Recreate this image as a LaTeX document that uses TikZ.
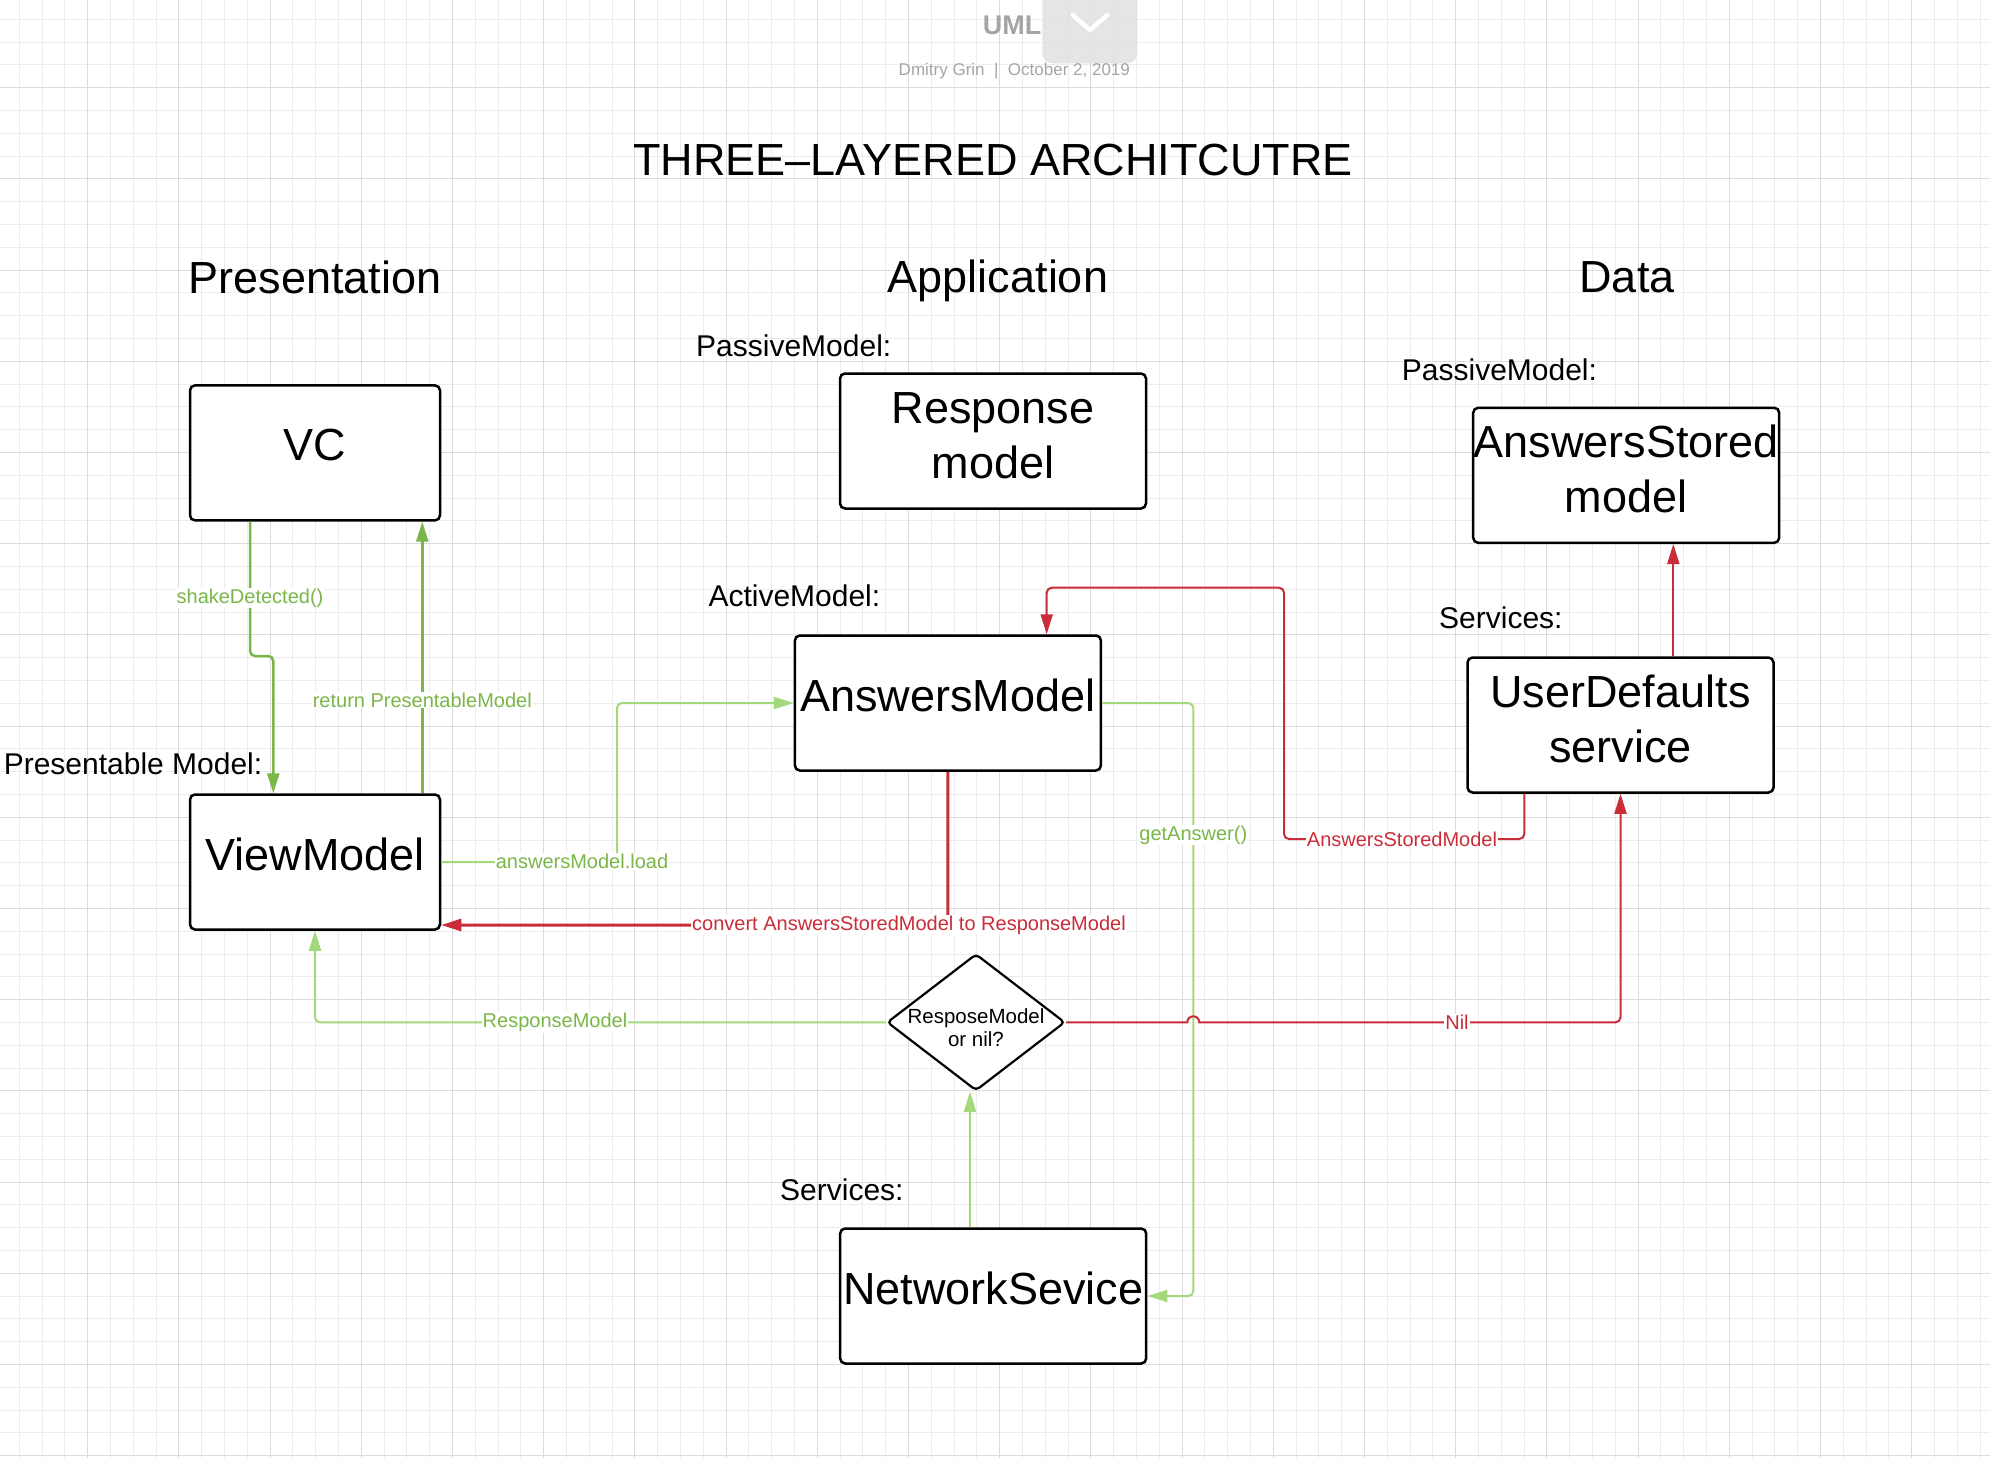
\documentclass[tikz,border=0pt]{standalone}
\usepackage{fontspec}
\setmainfont{Liberation Sans}
\usetikzlibrary{arrows.meta,shapes.geometric}
\definecolor{gridminor}{RGB}{236,236,236}
\definecolor{gridmajor}{RGB}{220,220,220}
\definecolor{dgreen}{RGB}{122,182,72}
\definecolor{lgreen}{RGB}{163,217,122}
\definecolor{lred}{RGB}{201,45,57}
\definecolor{hgrey}{RGB}{165,165,165}
\definecolor{tabgrey}{RGB}{224,225,227}
\newcommand{\fsz}[2]{\fontsize{#1}{#2}\selectfont}
\newcommand{\boxone}[1]{\raisebox{-8pt}[0pt][0pt]{#1}}
\newcommand{\boxtwo}[2]{\raisebox{18pt}[0pt][0pt]{\begin{tabular}[t]{@{}c@{}}#1\\#2\end{tabular}}}
\begin{document}
\begin{tikzpicture}[x=1pt,y=-1pt,
  box/.style={draw=black, line width=2.5pt, rounded corners=5pt, fill=white, inner sep=0pt,
    minimum width=306pt, minimum height=135pt, font=\fsz{45}{55}},
  decision/.style={diamond, draw=black, line width=2.2pt, rounded corners=4pt, fill=white, inner sep=0pt,
    minimum width=178pt, minimum height=133pt, font=\fsz{20.5}{23}},
  heading/.style={anchor=base, inner sep=0pt, font=\fsz{45}{54}},
  tag/.style={anchor=base west, inner sep=0pt, font=\fsz{30}{36}},
  lbl/.style={fill=white, inner sep=1pt, font=\fsz{20}{24}},
  glbl/.style={lbl, text=dgreen},
  rlbl/.style={lbl, text=lred},
  tip/.style={-{Triangle[length=20pt,width=12pt]}},
  darrow/.style={draw=dgreen, line width=2.5pt, rounded corners=5pt, tip},
  larrow/.style={draw=lgreen, line width=2pt, rounded corners=5pt, tip},
  rarrow/.style={draw=lred, line width=2pt, rounded corners=5pt, tip},
  rthick/.style={draw=lred, line width=3pt, rounded corners=5pt, tip},
  rplain/.style={draw=lred, line width=2pt, tip},
]
\useasboundingbox (0,0) rectangle (1990,1458);
\fill[white] (0,0) rectangle (1990,1458);
% grid (snapped to pixel centres)
\foreach \k in {0,...,86} {\pgfmathsetmacro\gp{round(18.8+22.8*\k)+0.5}
  \draw[gridminor, line width=1pt] (\gp,0) -- (\gp,1458);}
\foreach \k in {0,...,63} {\pgfmathsetmacro\gp{round(18.8+22.8*\k)+0.5}
  \draw[gridminor, line width=1pt] (0,\gp) -- (1990,\gp);}
\foreach \k in {3,7,...,83} {\pgfmathsetmacro\gp{round(18.8+22.8*\k)+0.5}
  \draw[gridmajor, line width=1pt] (\gp,0) -- (\gp,1458);}
\foreach \k in {3,7,...,63} {\pgfmathsetmacro\gp{round(18.8+22.8*\k)+0.5}
  \draw[gridmajor, line width=1pt] (0,\gp) -- (1990,\gp);}

% header
\node[anchor=base west, inner sep=0pt, text=hgrey, font=\bfseries\fsz{27}{30}] (uml) at (982.7,35) {UML};
\fill[tabgrey, opacity=0.85, rounded corners=10pt] (1042.3,-12) rectangle (1137.3,63.3);
\draw[white, line width=4.5pt, line cap=round, line join=round] (1072.7,15) -- (1090,30) -- (1107.3,15);
\node[anchor=base, inner sep=0pt, text=hgrey, font=\fsz{17}{20}] (meta) at (1014.3,76) {Dmitry Grin\ \ |\ \ October 2, 2019};

% titles
\node[heading] (title) at (993,176) {THREE–LAYERED ARCHITCUTRE};
\node[heading] (hp) at (315,293.5) {Presentation};
\node[heading] (ha) at (998,292.7) {Application};
\node[heading] (hd) at (1627,293) {Data};

% tags
\node[tag] (t1) at (696,356.7) {PassiveModel:};
\node[tag] (t2) at (708.3,606.7) {ActiveModel:};
\node[tag] (t3) at (1401.7,380) {PassiveModel:};
\node[tag] (t4) at (1439,628) {Services:};
\node[tag] (t5) at (780,1200) {Services:};
\node[tag] (t6) at (3.6,774) {Presentable Model:};

% boxes
\node[box, minimum width=250pt] (vc) at (315,452.9) {\boxone{VC}};
\node[box, minimum width=250pt] (vm) at (315,862) {\boxone{ViewModel}};
\node[box] (rm) at (993,441) {\boxtwo{Response}{model}};
\node[box] (am) at (947.9,703) {\boxone{AnswersModel}};
\node[box] (asm) at (1626.2,475.3) {\boxtwo{AnswersStored}{model}};
\node[box] (uds) at (1620.5,725) {\boxtwo{UserDefaults}{service}};
\node[box] (ns) at (993.2,1296) {\boxone{NetworkSevice}};
\node[decision] (rd) at (976,1022.3) {\raisebox{-1pt}[0pt][0pt]{\begin{tabular}[t]{@{}c@{}}ResposeModel\\or nil?\end{tabular}}};

% connectors
\draw[darrow] ([xshift=-65pt]vc.south) -- (250,656) -- (273.3,656) -- ([xshift=-41.7pt]vm.north);
\draw[darrow] ([xshift=107.3pt]vm.north) -- ([xshift=107.3pt]vc.south);
\draw[larrow] (vm.east) -| (617,703) -- (am.west);
\draw[larrow] (am.east) -| (1193.3,1296) -- (ns.east);
\draw[rarrow] ([xshift=-96.2pt]uds.south) -- (1524.3,839) -- (1284,839) -- (1284,587.7) -- (1046.7,587.7) -- ([xshift=98.8pt]am.north);
\draw[rthick] (am.south) |- ([yshift=-63pt]vm.east);
\draw[larrow] (rd.west) -| (vm.south);
\draw[rplain] (rd.east) -- (1187.3,1022.3) arc[start angle=180, end angle=0, radius=6pt] [rounded corners=5pt] -| (uds.south);
\draw[larrow] ([xshift=-23.2pt]ns.north) -- ([xshift=-6pt]rd.south);
\draw[rarrow] ([xshift=52.8pt]uds.north) -- ([xshift=47.1pt]asm.south);

% labels
\node[glbl] (l1) at (250,598) {shakeDetected()};
\node[glbl] (l2) at (422.3,700) {return PresentableModel};
\node[glbl] (l3) at (582,861.7) {answersModel.load};
\node[glbl] (l4) at (1193.3,835) {getAnswer()};
\node[rlbl] (l5) at (1402,839) {AnswersStoredModel};
\node[rlbl] (l6) at (909,925) {convert AnswersStoredModel to ResponseModel};
\node[glbl] (l7) at (555,1022.7) {ResponseModel};
\node[rlbl] (l8) at (1457,1022.3) {Nil};
\end{tikzpicture}
\end{document}
